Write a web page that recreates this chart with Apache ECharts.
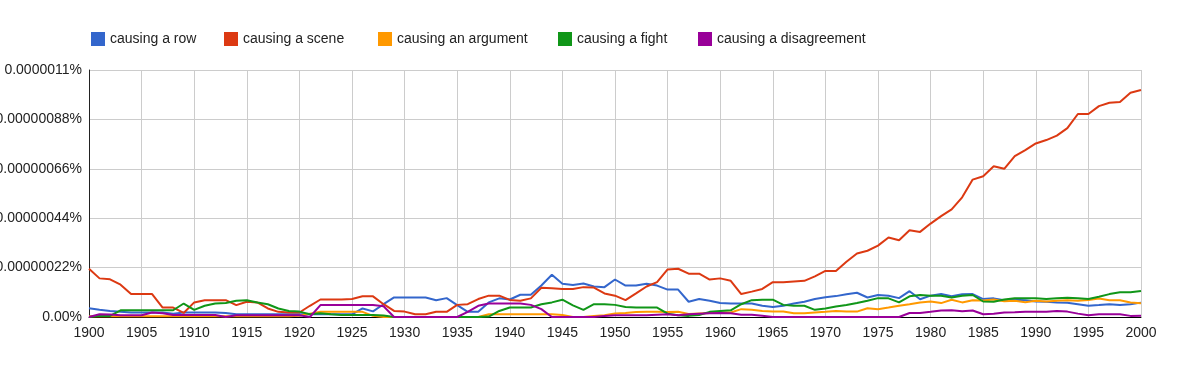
<!DOCTYPE html>
<html>
<head>
<meta charset="utf-8">
<script src="https://cdn.jsdelivr.net/npm/echarts@6/dist/echarts.min.js"></script>
<style>
html,body{margin:0;padding:0;background:#fff;}
#chart{width:1202px;height:374px;}
</style>
</head>
<body>
<div id="chart"></div>
<script>
// values in units of 1e-8 percent
const startYear = 1900;
const endYear = 2000;
const years = [];
for (let y = startYear; y <= endYear; y++) years.push(String(y));

const seriesNames = ['causing a row', 'causing a scene', 'causing an argument', 'causing a fight', 'causing a disagreement'];

const causingARow = [
  3.9,3.2,2.7,2.3,2.0,2.0,2.0,2.0,1.5,2.0,
  2.0,2.0,2.0,1.8,1.2,1.2,1.2,1.2,1.2,1.2,
  1.2,1.2,1.2,1.2,1.2,1.2,3.8,2.5,5.7,8.7,
  8.7,8.7,8.7,7.5,8.4,5.3,2.3,2.3,6.5,8.3,
  7.8,9.9,9.9,14.0,18.8,14.8,14.3,14.9,13.6,13.3,
  16.7,14.0,14.0,14.8,14.0,12.2,12.2,6.8,8.0,7.2,
  6.2,6.0,6.0,6.0,5.0,4.5,5.0,6.0,6.8,8.0,
  8.8,9.3,10.1,10.8,8.7,9.8,9.5,8.4,11.5,7.9,
  9.5,10.2,9.2,10.1,10.2,8.0,8.3,7.5,7.7,7.5,
  6.9,6.8,6.5,6.3,5.7,5.0,5.3,5.7,5.3,5.7,
  6.4
];
const causingAScene = [
  21.5,17.2,16.8,14.4,10.2,10.2,10.2,4.2,4.2,1.8,
  6.5,7.5,7.5,7.5,5.3,6.8,6.5,3.8,2.3,2.0,
  2.0,5.0,7.8,7.8,7.8,8.0,9.2,9.2,5.7,2.7,
  2.4,1.2,1.2,2.3,2.3,5.4,5.7,8.0,9.5,9.5,
  7.6,7.2,8.3,13.0,12.8,12.5,12.5,13.3,13.1,10.5,
  9.5,7.5,10.5,13.6,15.5,21.2,21.5,19.3,19.3,16.7,
  17.2,16.1,10.2,11.3,12.5,15.5,15.5,15.8,16.1,18.1,
  20.5,20.5,24.6,28.3,29.5,31.8,35.4,34.2,38.6,37.9,
  41.6,44.9,47.9,53.3,61.2,62.7,67.1,66.0,71.6,74.3,
  77.3,78.8,80.8,84.1,90.4,90.4,93.9,95.4,95.8,99.9,
  101.1
];
const causingAnArgument = [
  0.3,0.3,0.3,0.3,0.3,0.3,0.3,0.3,0.3,0.3,
  0.3,0.3,0.3,0.3,0.3,0.3,0.3,0.3,0.3,0.3,
  0.6,1.5,2.3,2.3,2.3,2.3,2.3,0.5,0,0,
  0,0,0,0,0,0,0,0,1.2,1.2,
  1.2,1.2,1.2,1.2,1.2,0.9,0,0,0.5,0.8,
  1.6,1.8,2.2,2.3,2.3,2.2,2.3,1.3,1.6,1.8,
  2.0,2.0,3.5,3.2,2.7,2.4,2.4,1.7,1.7,2.0,
  2.3,2.7,2.4,2.4,3.9,3.5,4.2,5.0,5.7,6.5,
  6.9,6.2,7.7,6.5,7.5,7.3,7.8,7.0,7.2,6.6,
  7.2,6.9,7.2,7.5,7.2,7.6,8.2,7.5,7.5,6.5,
  6.1
];
const causingAFight = [
  0,0.5,0.5,3.0,3.0,3.0,3.0,3.0,3.0,6.0,
  3.2,5.0,6.0,6.2,7.2,7.5,6.5,5.7,3.8,2.7,
  2.4,1.2,1.7,1.2,0.9,0.9,0.9,0.9,0.7,0,
  0,0,0,0,0,0,0,0,0.2,2.7,
  4.2,4.2,4.2,5.7,6.5,7.7,5.2,3.2,5.7,5.7,
  5.4,4.5,4.2,4.2,4.2,1.5,0.8,0.5,0.9,2.3,
  2.7,3.0,5.7,7.5,7.7,7.7,5.4,5.0,5.0,3.2,
  3.8,4.7,5.3,6.2,7.2,8.4,8.3,6.5,9.2,9.8,
  9.5,9.5,8.7,9.5,9.8,6.9,6.8,7.8,8.4,8.4,
  8.3,8.0,8.4,8.6,8.4,8.0,9.0,10.2,11.0,11.0,
  11.6
];
const causingADisagreement = [
  0,1.2,1.1,0.8,0.8,0.8,2.0,1.7,0.9,0.9,
  0.9,0.9,0.9,0,0.8,0.8,0.8,0.8,0.8,0.8,
  0.8,0,5.3,5.3,5.3,5.3,5.3,5.3,4.8,0,
  0,0,0,0,0,0,2.3,5.0,6.0,6.0,
  6.0,6.0,5.4,3.5,0,0,0,0,0,0.5,
  0.8,0.8,0.8,0.8,1.0,1.2,0.8,1.2,1.5,1.7,
  1.8,1.7,1.0,1.0,0.6,0,0,0,0,0,
  0,0,0,0,0,0,0,0,1.8,1.8,
  2.3,2.9,3.0,2.6,2.9,1.2,1.4,2.0,2.1,2.3,
  2.3,2.3,2.7,2.4,1.5,0.8,1.2,1.2,1.2,0.5,
  0.6
];

const yTickLabels = ['0.00%', '0.00000022%', '0.00000044%', '0.00000066%', '0.00000088%', '0.0000011%'];
const yStep = 22;
const yMax = 110;

const colors = ['#3366cc', '#dc3912', '#ff9900', '#109618', '#990099'];
const allValues = [causingARow, causingAScene, causingAnArgument, causingAFight, causingADisagreement];
const legendLefts = [91, 224, 378, 558, 698];

const FONT = "'Liberation Sans', Arial, Helvetica, sans-serif";

const chart = echarts.init(document.getElementById('chart'), null, { renderer: 'canvas' });

const legends = seriesNames.map((n, i) => ({
  data: [n],
  left: legendLefts[i],
  top: 32,
  padding: 0,
  icon: 'rect',
  itemWidth: 14,
  itemHeight: 14,
  selectedMode: false,
  textStyle: { fontSize: 14, color: '#222', fontFamily: FONT }
}));

const option = {
  animation: false,
  color: colors,
  legend: legends,
  grid: { left: 89, right: 61, top: 70, bottom: 57, outerBoundsMode: 'none', containLabel: false },
  xAxis: {
    type: 'category',
    data: years,
    boundaryGap: false,
    axisLine: { show: true, lineStyle: { color: '#000', width: 1 } },
    axisTick: { show: false },
    axisLabel: { interval: 4, margin: 9, fontSize: 14, color: '#222', fontFamily: FONT },
    splitLine: { show: true, interval: 4, lineStyle: { color: '#cccccc', width: 1 } }
  },
  yAxis: {
    type: 'value',
    min: 0,
    max: yMax,
    interval: yStep,
    axisLine: { show: true, lineStyle: { color: '#222', width: 1 } },
    axisTick: { show: false },
    axisLabel: {
      margin: 7, fontSize: 14, color: '#222', fontFamily: FONT,
      formatter: v => yTickLabels[Math.round(v / yStep)]
    },
    splitLine: { show: true, lineStyle: { color: '#cccccc', width: 1 } }
  },
  series: seriesNames.map((n, i) => ({
    name: n,
    type: 'line',
    data: allValues[i],
    showSymbol: false,
    symbol: 'none',
    lineStyle: { width: 2, color: colors[i] },
    itemStyle: { color: colors[i] },
    emphasis: { disabled: true }
  }))
};
chart.setOption(option);
</script>
</body>
</html>
